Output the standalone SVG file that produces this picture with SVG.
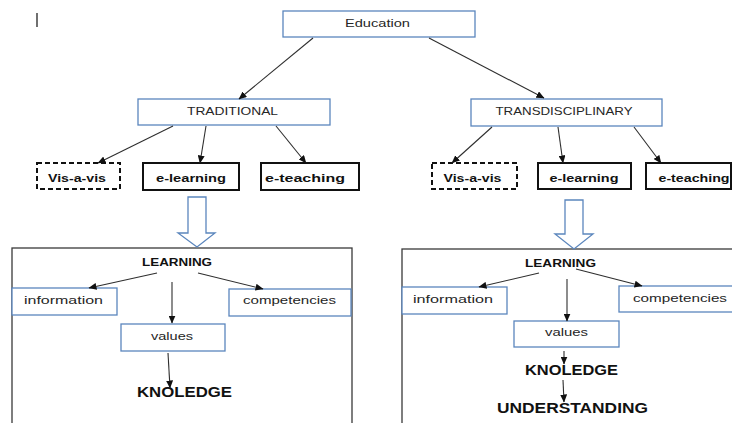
<svg xmlns="http://www.w3.org/2000/svg" width="732" height="423" viewBox="0 0 732 423">
  <style>
    .blue { fill: #ffffff; stroke: #5b86bd; stroke-width: 1.3; }
    .bold { fill: #ffffff; stroke: #111111; stroke-width: 2; }
    .dash { fill: #ffffff; stroke: #111111; stroke-width: 2; stroke-dasharray: 5 3; }
    .frame { fill: #ffffff; stroke: #3a3a3a; stroke-width: 1.3; }
    .hollow { fill: #ffffff; stroke: #5b86bd; stroke-width: 1.3; }
    .t { font-family: "Liberation Sans", Arial, sans-serif; font-size: 11px; fill: #262626; text-anchor: middle; }
    .tb { font-family: "Liberation Sans", Arial, sans-serif; font-size: 11px; font-weight: bold; fill: #111111; text-anchor: middle; }
    .tbig { font-family: "Liberation Sans", Arial, sans-serif; font-size: 14px; font-weight: bold; fill: #111111; text-anchor: middle; }
    .conn line { stroke: #2e2e2e; stroke-width: 1.1; marker-end: url(#head); }
  </style>
  <defs>
    <marker id="head" markerWidth="8" markerHeight="7" refX="7.5" refY="3.5" orient="auto" markerUnits="userSpaceOnUse">
      <path d="M0,0 L8,3.5 L0,7 Z" fill="#111111"/>
    </marker>
  </defs>

  <rect width="732" height="423" fill="#ffffff"/>

  <!-- text cursor mark -->
  <line x1="37" y1="13" x2="37" y2="27" stroke="#222222" stroke-width="1.3"/>

  <!-- outer frames -->
  <g id="frame-left"><rect class="frame" x="12" y="248" width="340" height="185"/></g>
  <g id="frame-right"><rect class="frame" x="402" y="249" width="340" height="185"/></g>

  <!-- hollow down arrows -->
  <g id="arrow-left"><path class="hollow" d="M188,197 H206 V233 H215 L197,247 L178,233 H188 Z"/></g>
  <g id="arrow-right"><path class="hollow" d="M565,200 H583 V234 H593 L574,249 L555,234 H565 Z"/></g>

  <g id="education">
    <rect class="blue" x="283" y="11" width="192" height="26"/>
    <text class="t" x="377.5" y="27" textLength="65" lengthAdjust="spacingAndGlyphs">Education</text>
  </g>
  <g id="traditional">
    <rect class="blue" x="138" y="99" width="192" height="26"/>
    <text class="t" x="232.5" y="115" textLength="91" lengthAdjust="spacingAndGlyphs">TRADITIONAL</text>
  </g>
  <g id="transdisciplinary">
    <rect class="blue" x="471" y="99" width="191" height="27"/>
    <text class="t" x="564" y="115" textLength="137" lengthAdjust="spacingAndGlyphs">TRANSDISCIPLINARY</text>
  </g>

  <g id="vis-a-vis-left">
    <rect class="dash" x="37" y="163" width="83" height="26"/>
    <text class="tb" x="77" y="182" textLength="58" lengthAdjust="spacingAndGlyphs">Vis-a-vis</text>
  </g>
  <g id="e-learning-left">
    <rect class="bold" x="143" y="163" width="96" height="27"/>
    <text class="tb" x="191" y="182" textLength="70" lengthAdjust="spacingAndGlyphs">e-learning</text>
  </g>
  <g id="e-teaching-left">
    <rect class="bold" x="261" y="163" width="98" height="27"/>
    <text class="tb" x="305" y="182" textLength="80" lengthAdjust="spacingAndGlyphs">e-teaching</text>
  </g>
  <g id="vis-a-vis-right">
    <rect class="dash" x="432" y="163" width="85" height="26"/>
    <text class="tb" x="472.5" y="182" textLength="58" lengthAdjust="spacingAndGlyphs">Vis-a-vis</text>
  </g>
  <g id="e-learning-right">
    <rect class="bold" x="538" y="163" width="93" height="26"/>
    <text class="tb" x="584" y="182" textLength="69" lengthAdjust="spacingAndGlyphs">e-learning</text>
  </g>
  <g id="e-teaching-right">
    <rect class="bold" x="646" y="163" width="85" height="26"/>
    <text class="tb" x="694" y="182" textLength="71" lengthAdjust="spacingAndGlyphs">e-teaching</text>
  </g>

  <!-- left learning block -->
  <g id="learning-left">
    <text class="tb" x="177" y="266" font-size="11.5" textLength="70" lengthAdjust="spacingAndGlyphs">LEARNING</text>
  </g>
  <g id="information-left">
    <rect class="blue" x="12" y="288" width="105" height="27"/>
    <text class="t" x="63.5" y="304" textLength="79" lengthAdjust="spacingAndGlyphs">information</text>
  </g>
  <g id="competencies-left">
    <rect class="blue" x="229" y="289" width="122" height="27"/>
    <text class="t" x="289.5" y="304" textLength="93" lengthAdjust="spacingAndGlyphs">competencies</text>
  </g>
  <g id="values-left">
    <rect class="blue" x="121" y="324" width="104" height="27"/>
    <text class="t" x="172" y="340" textLength="42" lengthAdjust="spacingAndGlyphs">values</text>
  </g>
  <g id="knoledge-left">
    <text class="tbig" x="184.5" y="397" textLength="95" lengthAdjust="spacingAndGlyphs">KNOLEDGE</text>
  </g>

  <!-- right learning block -->
  <g id="learning-right">
    <text class="tb" x="560.5" y="267" font-size="11.5" textLength="71" lengthAdjust="spacingAndGlyphs">LEARNING</text>
  </g>
  <g id="information-right">
    <rect class="blue" x="402" y="287" width="105" height="27"/>
    <text class="t" x="453" y="303" textLength="80" lengthAdjust="spacingAndGlyphs">information</text>
  </g>
  <g id="competencies-right">
    <rect class="blue" x="619" y="286" width="114" height="26"/>
    <text class="t" x="680" y="302" textLength="94" lengthAdjust="spacingAndGlyphs">competencies</text>
  </g>
  <g id="values-right">
    <rect class="blue" x="514" y="321" width="105" height="26"/>
    <text class="t" x="566.5" y="336" textLength="43" lengthAdjust="spacingAndGlyphs">values</text>
  </g>
  <g id="knoledge-right">
    <text class="tbig" x="571.5" y="375" textLength="93" lengthAdjust="spacingAndGlyphs">KNOLEDGE</text>
  </g>
  <g id="understanding">
    <text class="tbig" x="572.5" y="413" textLength="151" lengthAdjust="spacingAndGlyphs">UNDERSTANDING</text>
  </g>

  <!-- connectors -->
  <g id="connectors" class="conn">
    <line x1="313" y1="38" x2="239" y2="99"/>
    <line x1="429" y1="38" x2="544" y2="98"/>

    <line x1="173" y1="126" x2="98" y2="163"/>
    <line x1="206" y1="126" x2="200" y2="163"/>
    <line x1="276" y1="126" x2="306" y2="163"/>

    <line x1="492" y1="127" x2="452" y2="163"/>
    <line x1="558" y1="127" x2="563" y2="163"/>
    <line x1="634" y1="127" x2="661" y2="163"/>

    <line x1="157" y1="273" x2="89" y2="288"/>
    <line x1="172" y1="282" x2="172" y2="323"/>
    <line x1="198" y1="273" x2="263" y2="289"/>
    <line x1="168" y1="353" x2="170" y2="388"/>

    <line x1="539" y1="273" x2="479" y2="287"/>
    <line x1="576" y1="269" x2="642" y2="286"/>
    <line x1="567" y1="279" x2="567" y2="321"/>
    <line x1="564" y1="351" x2="564" y2="364"/>
    <line x1="563" y1="380" x2="564" y2="402"/>
  </g>
</svg>
